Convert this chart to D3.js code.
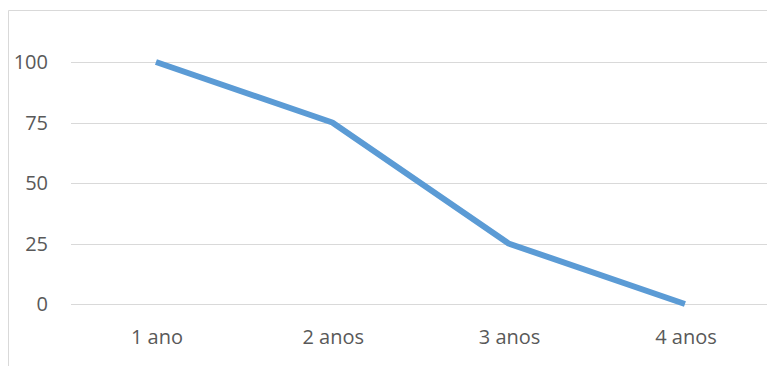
<!DOCTYPE html>
<html>
<head>
<meta charset="utf-8">
<script src="https://cdn.jsdelivr.net/npm/d3@7"></script>
<style>
  html, body { margin: 0; padding: 0; background: #fff; }
  svg { display: block; }
  text { font-family: "Open Sans", "Noto Sans", sans-serif; font-size: 20px; fill: #595959; }
</style>
</head>
<body>
<svg id="chart" width="767" height="366"></svg>
<script>
const categories = ["1 ano", "2 anos", "3 anos", "4 anos"];
const values = [100, 75, 25, 0];
const yTicks = [0, 25, 50, 75, 100];

const W = 767, H = 366;
const svg = d3.select("#chart");

// chart border (partially cropped)
svg.append("path")
  .attr("d", `M8.5,${H} V10.5 H${W}`)
  .attr("fill", "none")
  .attr("stroke", "#D9D9D9")
  .attr("stroke-width", 1);

const plotLeft = 71, plotRight = W;
const x = d3.scaleBand().domain(categories).range([67.8, 773.1]).padding(0);
const y = d3.scaleLinear().domain([0, 100]).range([304, 62]);
const cx = c => x(c) + x.bandwidth() / 2;

// gridlines
svg.append("g").selectAll("line").data(yTicks).join("line")
  .attr("x1", plotLeft).attr("x2", plotRight)
  .attr("y1", d => Math.round(y(d)) + 0.5).attr("y2", d => Math.round(y(d)) + 0.5)
  .attr("stroke", "#D9D9D9").attr("stroke-width", 1.2);

// y labels
svg.append("g").selectAll("text").data(yTicks).join("text")
  .attr("x", 48).attr("y", d => y(d))
  .attr("dy", "0.36em")
  .attr("text-anchor", "end")
  .text(d => d);

// x labels
svg.append("g").selectAll("text").data(categories).join("text")
  .attr("x", d => cx(d) + 1).attr("y", 344)
  .attr("text-anchor", "middle")
  .text(d => d);

// line
const line = d3.line().x((d, i) => cx(categories[i])).y(d => y(d));
svg.append("path")
  .datum(values)
  .attr("d", line)
  .attr("fill", "none")
  .attr("stroke", "#5B9BD5")
  .attr("stroke-width", 6)
  .attr("stroke-linejoin", "round")
  .attr("stroke-linecap", "butt");
</script>
</body>
</html>
